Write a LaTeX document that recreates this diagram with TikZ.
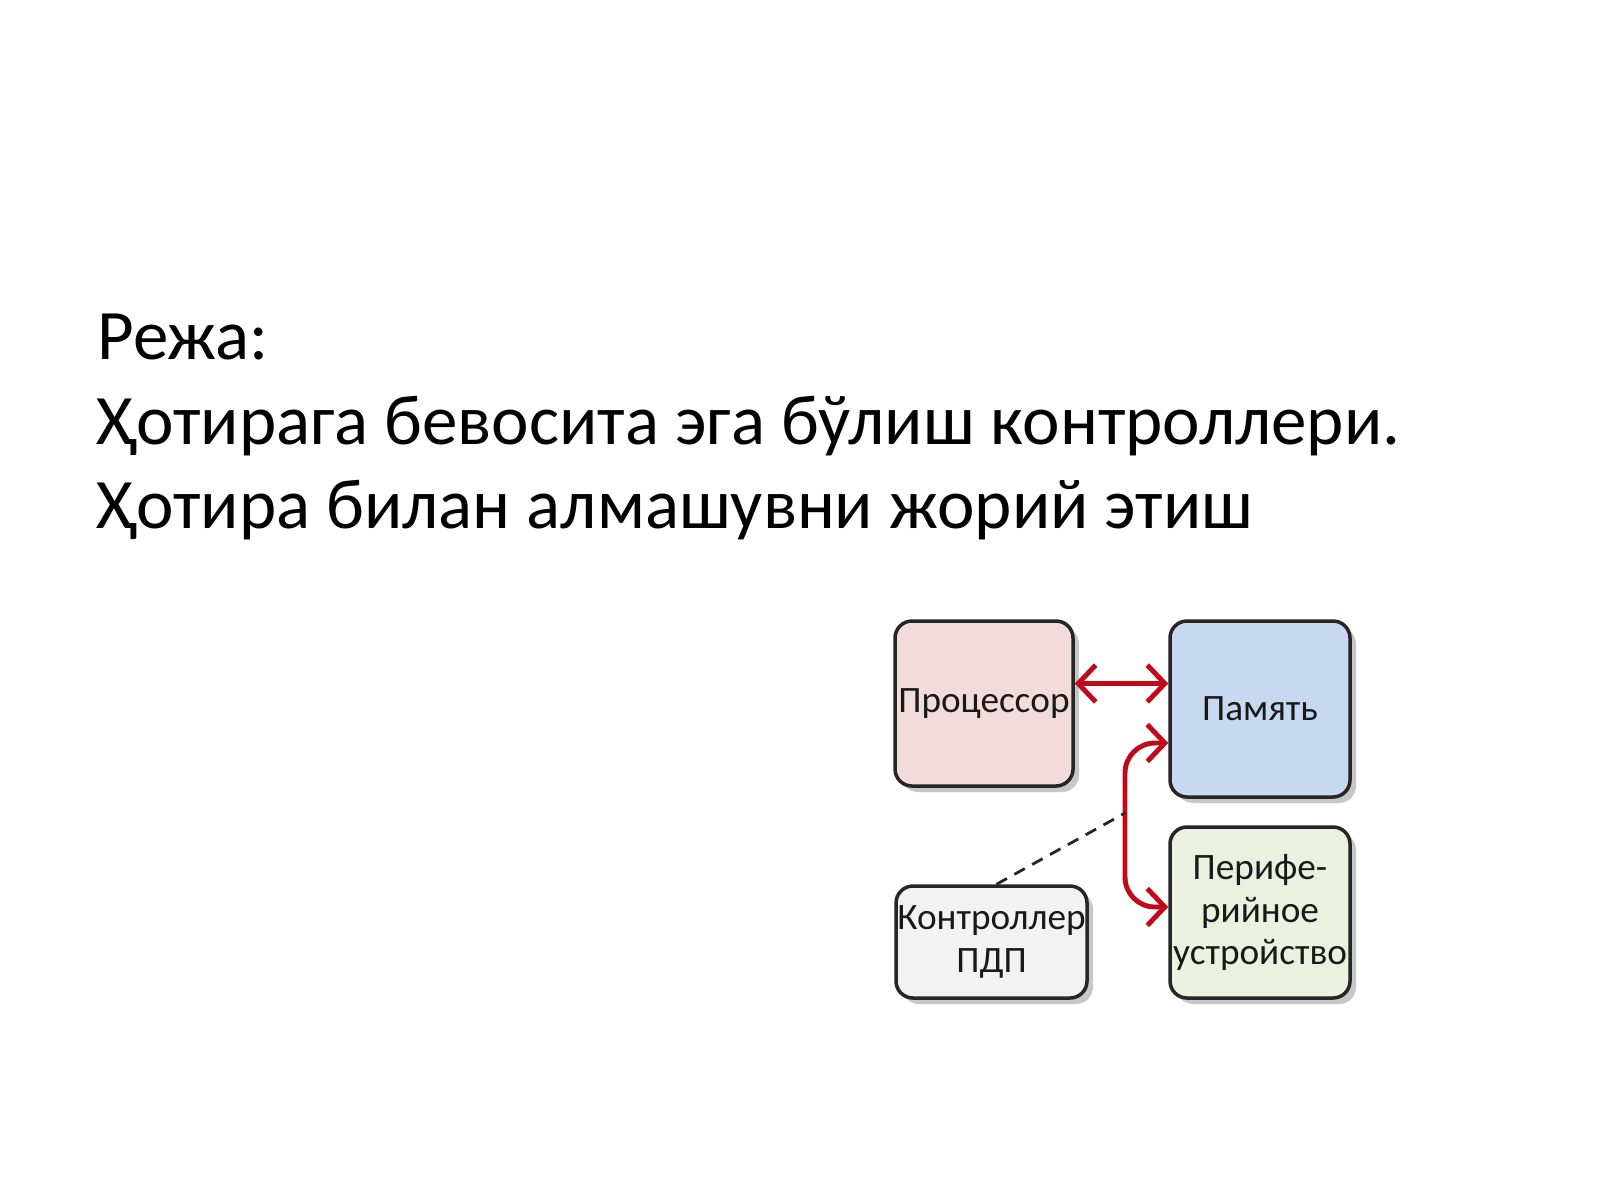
\documentclass[tikz,border=0pt]{standalone}
\usepackage{fontspec}
\setmainfont{Carlito}
\usepackage{xcolor}
\usepackage{tikz}
\usetikzlibrary{shapes, arrows.meta, positioning, shadows}

\definecolor{procpink}{HTML}{F2DCDB}
\definecolor{memblue}{HTML}{C6D9F1}
\definecolor{ctlgray}{HTML}{F2F2F2}
\definecolor{pergreen}{HTML}{EBF1DE}
\definecolor{busred}{HTML}{C00A1A}
\definecolor{edgegray}{HTML}{262626}

\begin{document}
\begin{tikzpicture}
  [
    Box/.style={rectangle, rounded corners=1.7mm, draw=edgegray, line width=1pt, align=center,
      inner sep=0pt, font=\fontsize{10.6}{12.2}\selectfont, text=black!90,
      drop shadow={shadow xshift=0.6mm, shadow yshift=-0.6mm, opacity=0.22, fill=black}},
    Proc/.style={Box, fill=procpink, minimum width=17.8mm, minimum height=16.5mm},
    Mem/.style={Box, fill=memblue, minimum width=18mm, minimum height=17.6mm},
    Ctl/.style={Box, fill=ctlgray, minimum width=19.1mm, minimum height=11.2mm},
    Per/.style={Box, fill=pergreen, minimum width=18mm, minimum height=17.1mm},
    Line/.style={anchor=base west, font=\fontsize{20.2}{24}\selectfont, inner sep=0pt},
    Bus/.style={draw=busred, line width=1.4pt, {Straight Barb[length=5pt, width=10.5pt]}-{Straight Barb[length=5pt, width=10.5pt]}}
  ]
  \useasboundingbox[fill=white] (0,0) rectangle (16,-12);

  % Text
  \node[Line] (plan) at (0.97, -3.59) {Режа:};
  \node[Line] (topic1) at (0.97, -4.44) {Ҳотирага бевосита эга бўлиш контроллери.};
  \node[Line] (topic2) at (0.97, -5.28) {Ҳотира билан алмашувни жорий этиш};

  % Nodes
  \node[Proc] (proc) at (9.84, -7.035) {Процессор};
  \node[Mem] (mem) at (12.6, -7.09) {Память};
  \node[Ctl] (ctl) at (9.915, -9.42) {Контроллер\\ПДП};
  \node[Per] (per) at (12.6, -9.125) {Перифе-\\рийное\\устройство};
  \coordinate (tap) at (11.25, -8.13);

  % Lines
  \path [Bus] ([yshift=2mm]proc.east) -- ([yshift=2mm]proc.east -| mem.west);
  \path [Bus, rounded corners=3mm] ([yshift=-3.4mm]mem.west) -| (tap) |- ([yshift=0.55mm]per.west);
  \path [draw, dashed, dash pattern=on 3.4pt off 2.4pt, line width=0.8pt, black!85] ([xshift=0.5mm]ctl.north) -- (tap);

\end{tikzpicture}
\end{document}
